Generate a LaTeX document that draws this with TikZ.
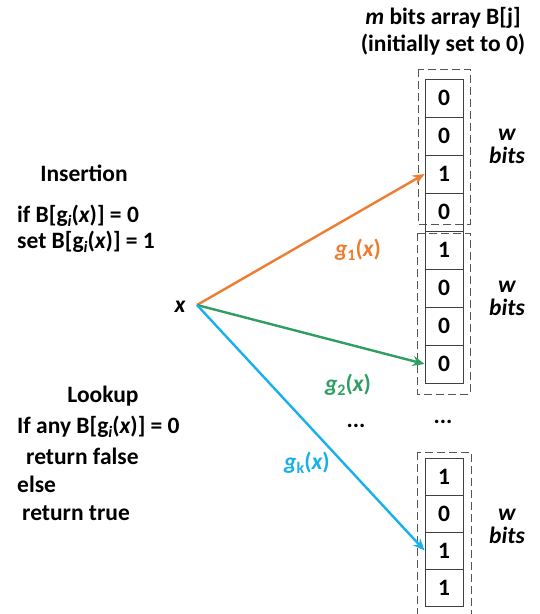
\documentclass[tikz,border=0pt]{standalone}
\usepackage{fontspec}
\setmainfont{Carlito}
\usetikzlibrary{arrows.meta}
\definecolor{gorange}{HTML}{ED7D31}
\definecolor{ggreen}{HTML}{2E9E62}
\definecolor{gblue}{HTML}{18B0EC}
\definecolor{boxgray}{HTML}{555555}
\newcommand{\sbs}[1]{\smash{\raisebox{-4pt}{\fontsize{16}{16}\selectfont #1}}}
\begin{document}
\begin{tikzpicture}[x=1pt,y=-1pt,
  font=\fontsize{23.5}{23}\selectfont\bfseries,
  cell/.style={draw=black!75, line width=0.8pt, minimum width=38pt, minimum height=38pt, inner sep=0pt},
  grp/.style={draw=boxgray, line width=1pt, dash pattern=on 8pt off 4pt},
  lbl/.style={inner sep=0pt},
  txt/.style={inner sep=0pt, anchor=west},
  arr/.style={line width=2.4pt, -{Stealth[length=12pt,width=10pt]}}]
\useasboundingbox (0,0) rectangle (540,614);
% title
\node[lbl] (t1) at (443,18) {\itshape m\upshape\ bits array B[j]};
\node[lbl] (t2) at (443,45) {(initially set to 0)};
% groups
\draw[grp] (418,69) rectangle (470,224);
\draw[grp] (417,233) rectangle (470,394);
\draw[grp] (417,452) rectangle (471,616);
% cells group 1
\node[cell] (a1) at (444,98) {0};
\node[cell] (a2) at (444,136) {0};
\node[cell] (a3) at (444,174) {1};
\node[cell] (a4) at (444,212) {0};
% group 2
\node[cell] (b1) at (444,250) {1};
\node[cell] (b2) at (444,288) {0};
\node[cell] (b3) at (444,326) {0};
\node[cell] (b4) at (444,364) {0};
% group 3
\node[cell, minimum height=37pt] (d1) at (444,476.5) {1};
\node[cell, minimum height=37pt] (d2) at (444,513.5) {0};
\node[cell, minimum height=37pt] (d3) at (444,550.5) {1};
\node[cell, minimum height=37pt] (d4) at (444,587.5) {1};
% w bits
\node[lbl, align=center, font=\fontsize{23.5}{23}\selectfont\bfseries\itshape] (w1) at (507,146) {w\\bits};
\node[lbl, align=center, font=\fontsize{23.5}{23}\selectfont\bfseries\itshape] (w2) at (507,298) {w\\bits};
\node[lbl, align=center, font=\fontsize{23.5}{23}\selectfont\bfseries\itshape] (w3) at (507,526) {w\\bits};
% dots
\node[lbl] (dots1) at (356,426) {...};
\node[lbl] (dots2) at (443,422) {...};
% source
\node[lbl] (x) at (180,307) {\itshape x};
\coordinate (src) at (197,305);
\draw[arr, gorange] (src) -- (a3.west);
\draw[arr, ggreen] (src) -- (b4.west);
\draw[arr, gblue] (src) -- (d3.west);
\node[lbl, text=gorange] (g1) at (358,250) {\itshape g\upshape\sbs{1}(\itshape x\upshape)};
\node[lbl, text=ggreen] (g2) at (348,385) {\itshape g\upshape\sbs{2}(\itshape x\upshape)};
\node[lbl, text=gblue] (gk) at (307,463) {\itshape g\upshape\sbs{k}(\itshape x\upshape)};
% left texts
\node[lbl] (ins) at (84,173) {Insertion};
\node[txt] (i1) at (17,216) {if B[g\sbs{\itshape i}(\itshape x\upshape)] = 0};
\node[txt] (i2) at (17,242) {set B[g\sbs{\itshape i}(\itshape x\upshape)] = 1};
\node[lbl] (look) at (103,396) {Lookup};
\node[txt] (l1) at (17,427) {If any B[g\sbs{\itshape i}(\itshape x\upshape)] = 0};
\node[txt] (l2) at (26,456) {return false};
\node[txt] (l3) at (17,484) {else};
\node[txt] (l4) at (22,513) {return true};
\end{tikzpicture}
\end{document}
